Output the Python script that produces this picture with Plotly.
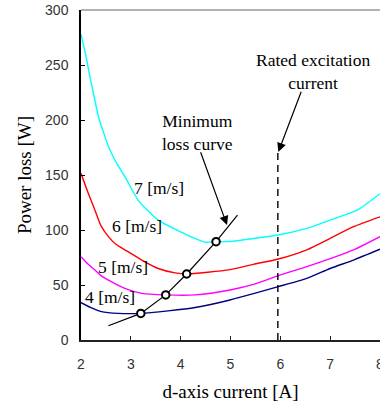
import plotly.graph_objects as go

# ---- data ----
x_7 = [2.0, 2.1, 2.18, 2.27, 2.35, 2.45, 2.55, 2.7, 2.88, 3.15, 3.55, 3.99, 4.2, 4.49, 4.71, 5.0, 5.33, 5.96, 6.53, 7.0, 7.54, 8.0]
y_7 = [278, 258, 239, 220, 203, 189, 176, 162, 148.5, 127, 109, 98.5, 94, 89, 89.4, 89.6, 91.5, 95.5, 101.5, 109, 118, 133]

x_6 = [2.0, 2.14, 2.28, 2.4, 2.55, 2.7, 2.88, 3.22, 3.55, 3.89, 4.12, 4.99, 5.46, 5.96, 6.53, 7.0, 7.47, 8.0]
y_6 = [151.5, 134, 118, 104, 94, 87, 82, 72.7, 65, 61, 60, 64, 68.8, 73.6, 82, 92.4, 103, 112]

x_5 = [2.0, 2.14, 2.28, 2.4, 2.55, 2.88, 3.22, 3.70, 4.29, 4.99, 5.53, 5.96, 6.53, 7.0, 7.47, 8.0]
y_5 = [75.7, 69, 63.6, 58.5, 54.5, 47, 42.4, 41, 41, 45.5, 51.5, 58.5, 66.7, 74, 82, 94]

x_4 = [2.0, 2.2, 2.41, 2.75, 3.2, 3.75, 4.29, 4.99, 5.96, 6.53, 7.0, 7.47, 8.0]
y_4 = [34, 29.5, 25.8, 24.2, 24.2, 26.5, 29.5, 36.4, 48.5, 56, 65, 72.7, 82.5]

min_x = [2.55, 3.2, 3.7, 4.12, 4.71, 5.14]
min_y = [13, 24.2, 41, 60, 89.4, 113.6]
opt_x = [3.2, 3.7, 4.12, 4.71]
opt_y = [24.2, 41, 60, 89.4]

rated_current = 5.95
rated_top = 174

speed_labels = ["7 [m/s]", "6 [m/s]", "5 [m/s]", "4 [m/s]"]
label_x = [3.57, 3.13, 2.84, 2.58]
label_y = [138, 103.6, 66.4, 39]

x_ticks = [2, 3, 4, 5, 6, 7, 8]
y_ticks = [0, 50, 100, 150, 200, 250, 300]

serif = "Liberation Serif, Times New Roman, serif"
sans = "Liberation Sans, Arial, sans-serif"
ann_size = 17.5

fig = go.Figure()
for xs, ys, c in [(x_4, y_4, "#000080"), (x_5, y_5, "#ff00ff"), (x_6, y_6, "#ff0000"), (x_7, y_7, "#00ffff")]:
    fig.add_trace(go.Scatter(x=xs, y=ys, mode="lines", line=dict(color=c, width=1.4, shape="spline", smoothing=0.6),
                             showlegend=False, hoverinfo="skip"))

fig.add_trace(go.Scatter(x=[rated_current, rated_current], y=[0, rated_top], mode="lines",
                         line=dict(color="black", width=1.4, dash="7px,5px"), showlegend=False))
fig.add_trace(go.Scatter(x=min_x, y=min_y, mode="lines", line=dict(color="black", width=1.2),
                         showlegend=False))
fig.add_trace(go.Scatter(x=opt_x, y=opt_y, mode="markers",
                         marker=dict(symbol="circle", size=7.5, color="white",
                                     line=dict(color="black", width=2)),
                         showlegend=False))

anns = []
for t, lx, ly in zip(speed_labels, label_x, label_y):
    anns.append(dict(x=lx, y=ly, text=t, showarrow=False, xref="x", yref="y",
                     font=dict(family=serif, size=ann_size, color="black")))

anns.append(dict(x=4.93, y=104.5, ax=4.39, ay=172, axref="x", ayref="y", xref="x", yref="y",
                 text="", showarrow=True, arrowhead=2, arrowsize=1.5, arrowwidth=1.2, arrowcolor="black"))
anns.append(dict(x=4.34, y=188.5, text="Minimum<br>loss curve", showarrow=False, xref="x", yref="y",
                 font=dict(family=serif, size=ann_size, color="black")))
anns.append(dict(x=5.96, y=171, ax=6.43, ay=227, axref="x", ayref="y", xref="x", yref="y",
                 text="", showarrow=True, arrowhead=2, arrowsize=1.5, arrowwidth=1.2, arrowcolor="black"))
anns.append(dict(x=6.65, y=244, text="Rated excitation<br>current", showarrow=False, xref="x", yref="y",
                 font=dict(family=serif, size=ann_size, color="black")))

fig.update_layout(
    width=380, height=402,
    margin=dict(l=81, r=0, t=10, b=62),
    paper_bgcolor="white", plot_bgcolor="white",
    annotations=anns,
    shapes=[dict(type="line", xref="paper", yref="paper", x0=0, x1=1, y0=1, y1=1,
                 line=dict(color="#999999", width=1.5))],
    xaxis=dict(range=[2, 8], tickvals=x_ticks, showgrid=False, zeroline=False,
               showline=True, linecolor="#222222", linewidth=2, automargin=False,
               ticks="inside", ticklen=4, tickcolor="#222222", ticklabelstandoff=10,
               ticklabeloverflow="allow",
               tickfont=dict(family=sans, size=14, color="#333333"),
               title=dict(text="d-axis current [A]", font=dict(family=serif, size=19, color="black"),
                          standoff=16)),
    yaxis=dict(range=[0, 300], tickvals=y_ticks, showgrid=False, zeroline=False,
               showline=True, linecolor="black", linewidth=1.5, automargin=False,
               ticks="inside", ticklen=4, tickcolor="black", ticklabelstandoff=8,
               tickfont=dict(family=sans, size=14, color="#333333"),
               title=dict(text="Power loss [W]", font=dict(family=serif, size=19, color="black"),
                          standoff=8)),
)

fig.write_html("out.html")
